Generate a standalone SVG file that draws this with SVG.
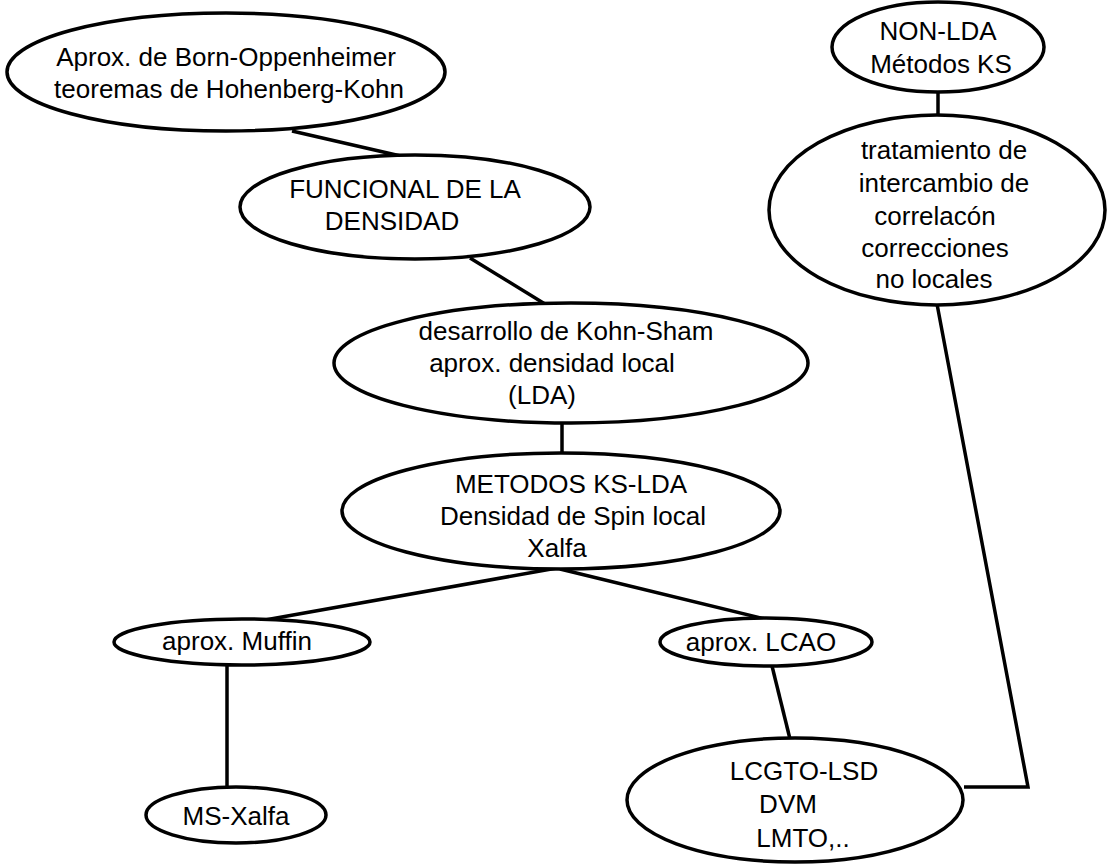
<svg xmlns="http://www.w3.org/2000/svg" width="1110" height="865" viewBox="0 0 1110 865">
<style>
  .node ellipse { fill: #ffffff; stroke: #000000; stroke-width: 3.5; }
  .node text { font-family: "Liberation Sans", Arial, sans-serif; font-size: 26px; fill: #000000; text-anchor: middle; }
  #connectors line, #connectors polyline { stroke: #000000; stroke-width: 3.5; fill: none; }
</style>
<rect x="0" y="0" width="1110" height="865" fill="#ffffff"/>
<g id="connectors">
  <line x1="292" y1="131" x2="405" y2="157"/>
  <line x1="470" y1="258" x2="545" y2="304"/>
  <line x1="562" y1="423" x2="562" y2="455"/>
  <line x1="557" y1="568" x2="265" y2="620"/>
  <line x1="560" y1="569" x2="765" y2="619"/>
  <line x1="227" y1="665" x2="227" y2="788"/>
  <line x1="772" y1="666" x2="790" y2="739"/>
  <line x1="938" y1="92" x2="938" y2="116"/>
  <polyline points="937,304 1028,787 964,787"/>
</g>
<g id="node-born" class="node">
  <ellipse cx="226" cy="72" rx="219" ry="59"/>
  <text x="226" y="66">Aprox. de Born-Oppenheimer</text>
  <text x="229" y="98">teoremas de Hohenberg-Kohn</text>
</g>
<g id="node-funcional" class="node">
  <ellipse cx="415" cy="207" rx="175" ry="52"/>
  <text x="405" y="198">FUNCIONAL DE LA</text>
  <text x="392" y="230">DENSIDAD</text>
</g>
<g id="node-kohn-sham" class="node">
  <ellipse cx="571" cy="363" rx="237" ry="60"/>
  <text x="566" y="340">desarrollo de Kohn-Sham</text>
  <text x="552" y="372">aprox. densidad local</text>
  <text x="542" y="404">(LDA)</text>
</g>
<g id="node-ks-lda" class="node">
  <ellipse cx="561" cy="511" rx="219" ry="58"/>
  <text x="571" y="493">METODOS KS-LDA</text>
  <text x="573" y="525">Densidad de Spin local</text>
  <text x="557" y="557">Xalfa</text>
</g>
<g id="node-muffin" class="node">
  <ellipse cx="242" cy="642" rx="128" ry="23"/>
  <text x="237" y="650">aprox. Muffin</text>
</g>
<g id="node-ms-xalfa" class="node">
  <ellipse cx="236" cy="815" rx="90" ry="28"/>
  <text x="236" y="825">MS-Xalfa</text>
</g>
<g id="node-lcao" class="node">
  <ellipse cx="766" cy="642" rx="106" ry="24"/>
  <text x="761" y="651">aprox. LCAO</text>
</g>
<g id="node-lcgto" class="node">
  <ellipse cx="795" cy="800" rx="168" ry="62"/>
  <text x="804" y="780">LCGTO-LSD</text>
  <text x="788" y="813">DVM</text>
  <text x="803" y="847">LMTO,..</text>
</g>
<g id="node-non-lda" class="node">
  <ellipse cx="938" cy="47" rx="106" ry="45"/>
  <text x="938" y="40">NON-LDA</text>
  <text x="941" y="73">Métodos KS</text>
</g>
<g id="node-tratamiento" class="node">
  <ellipse cx="937" cy="210" rx="168" ry="95"/>
  <text x="944" y="159">tratamiento de</text>
  <text x="944" y="192">intercambio de</text>
  <text x="935" y="225">correlacón</text>
  <text x="935" y="257">correcciones</text>
  <text x="934" y="288">no locales</text>
</g>
</svg>
